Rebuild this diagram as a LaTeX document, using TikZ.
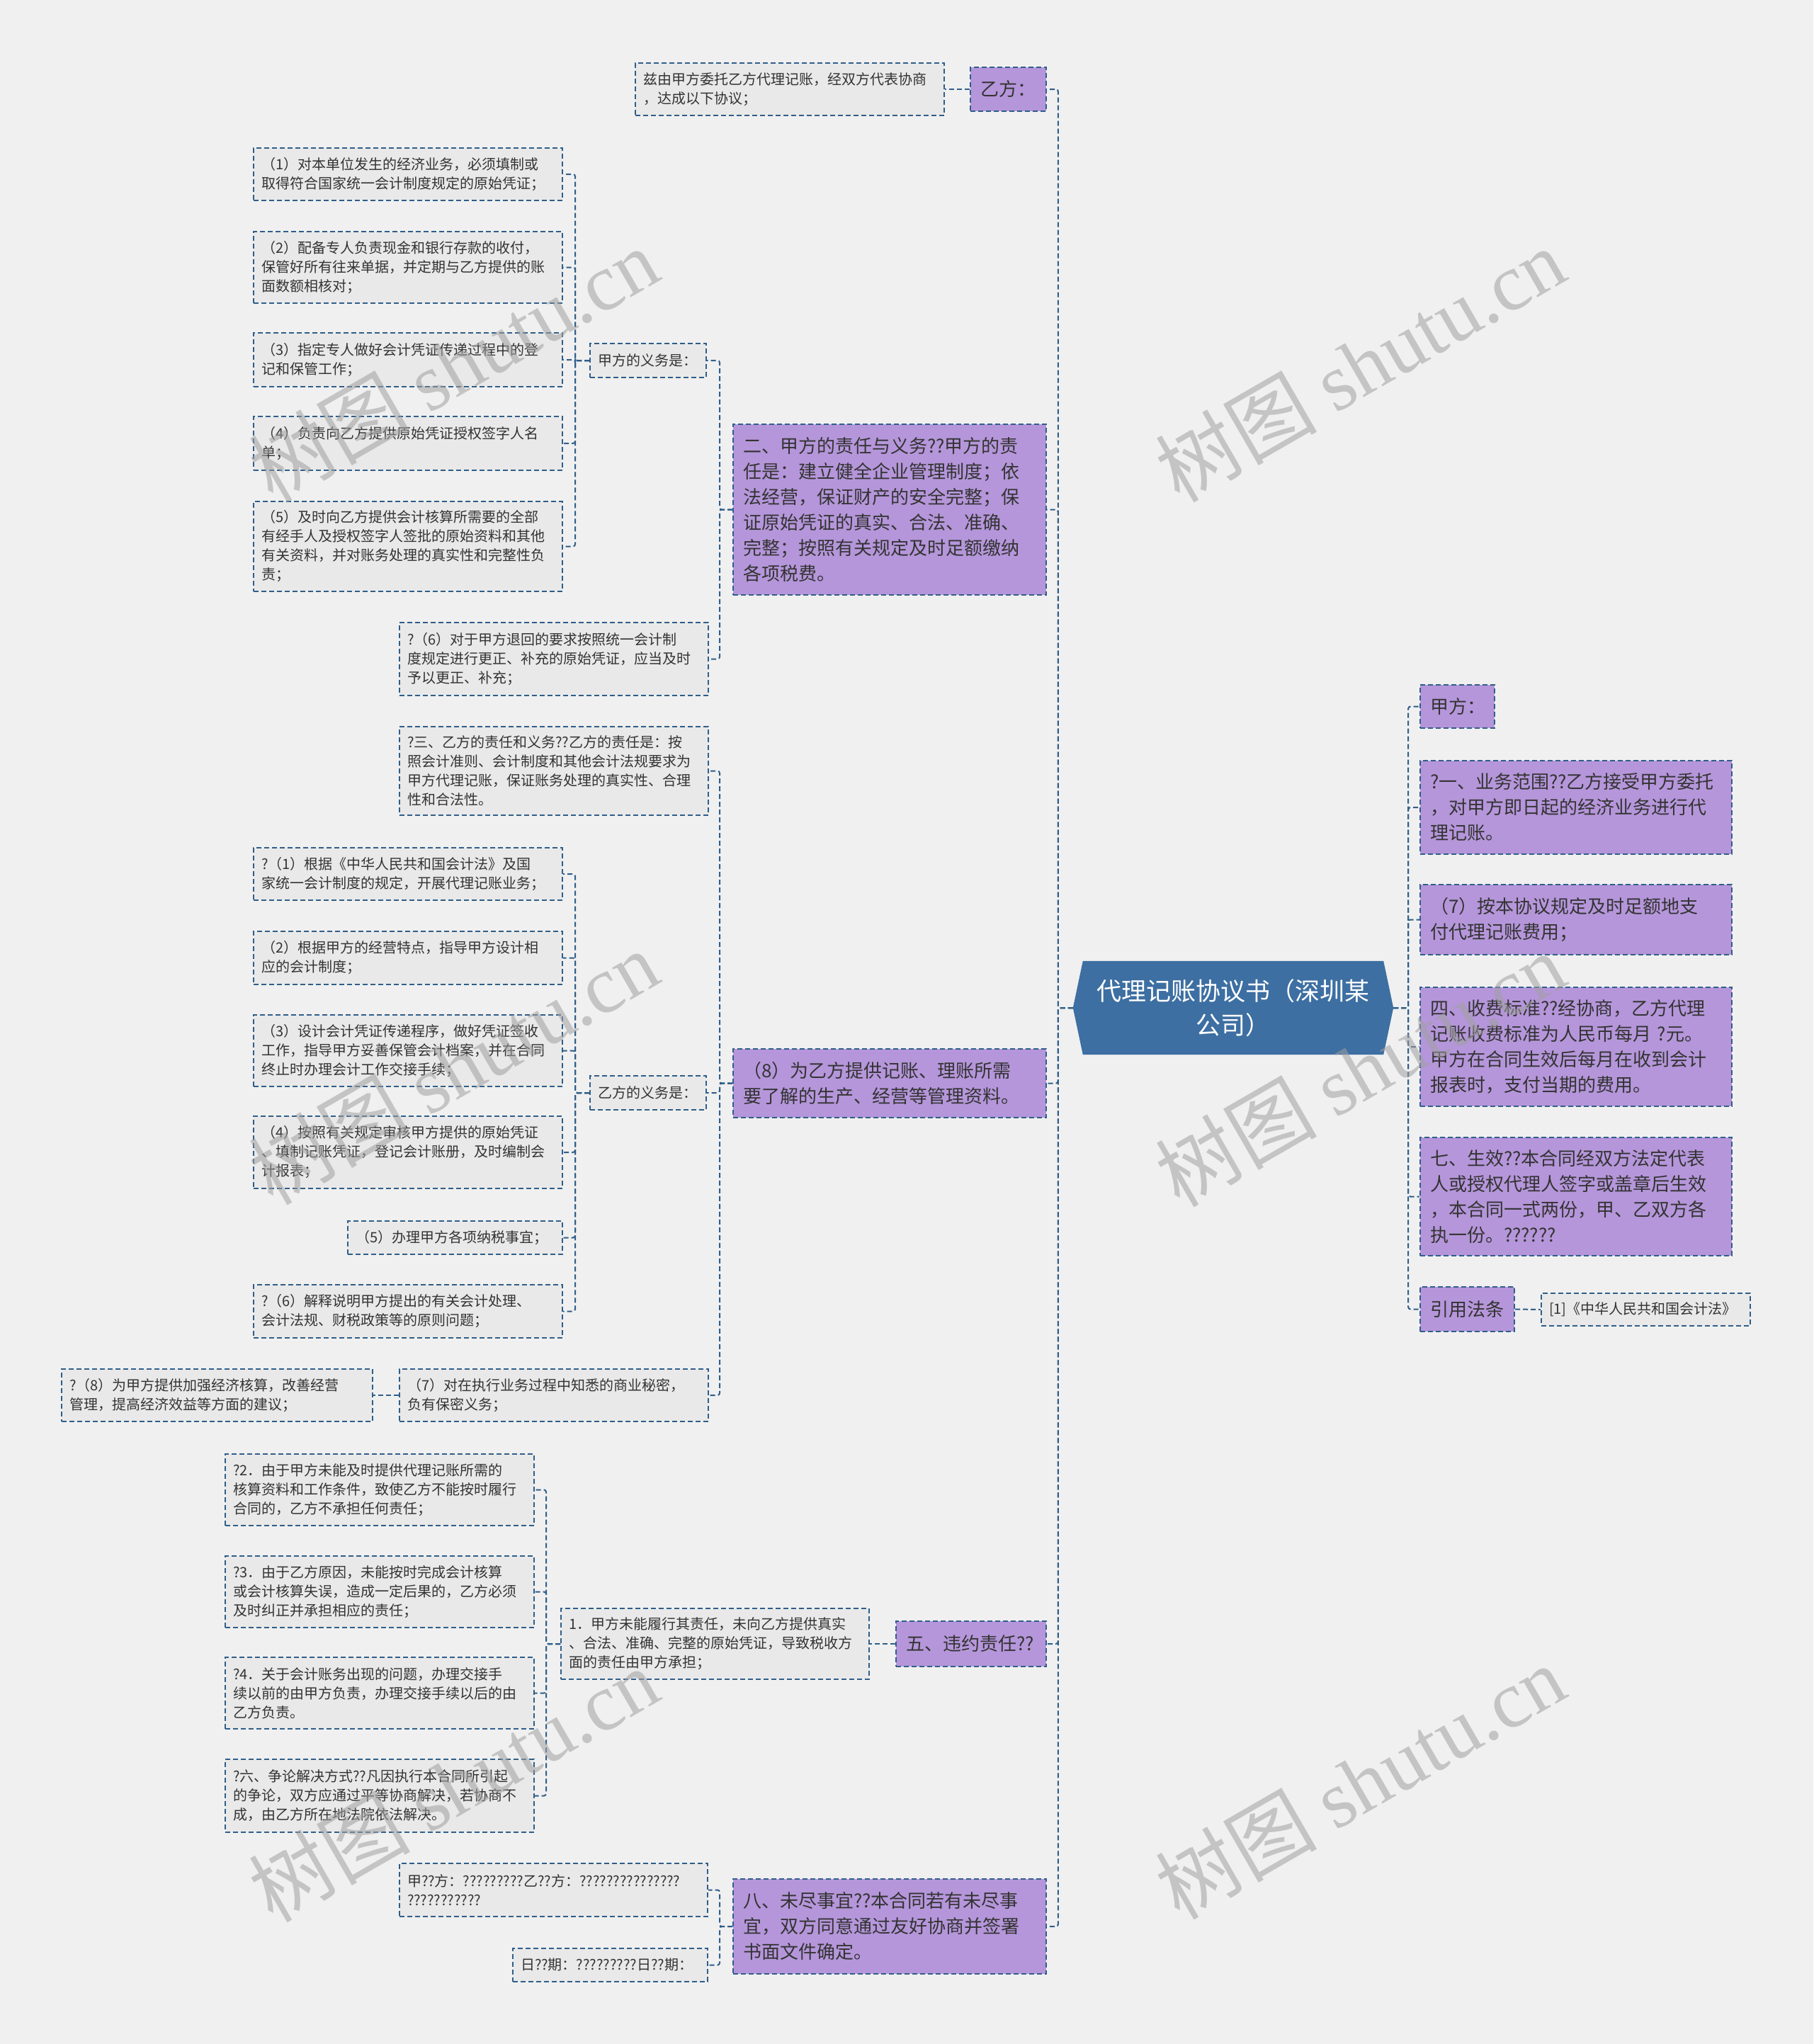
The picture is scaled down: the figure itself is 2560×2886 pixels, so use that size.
\documentclass[tikz,border=0pt]{standalone}
\usepackage{fontspec}
\setmainfont{Noto Sans CJK SC}
\newfontfamily\wmlatin{Liberation Serif}
\definecolor{bgc}{HTML}{F0F0F0}
\definecolor{linec}{HTML}{2F5E8A}
\definecolor{purp}{HTML}{B596DA}
\definecolor{leaff}{HTML}{E9E9E9}
\definecolor{txt}{HTML}{333333}
\definecolor{cent}{HTML}{3D6FA2}
\definecolor{wmc}{HTML}{A0A0A0}
\pgfdeclarelayer{bg}
\pgfsetlayers{bg,main}
\begin{document}
\begin{tikzpicture}[x=1pt,y=-1pt,
  box/.style={draw=linec, line width=2pt, dash pattern=on 7pt off 4pt, anchor=north west, align=left, text=txt, inner ysep=0pt},
  leaf/.style={box, fill=leaff, inner xsep=11pt, font=\fontsize{20}{27}\selectfont},
  purpbox/.style={box, fill=purp, inner xsep=14pt, font=\fontsize{26}{36}\selectfont},
  conn/.style={draw=linec, line width=2pt, dash pattern=on 7pt off 4pt, rounded corners=3pt},
  wm/.style={text=wmc, opacity=0.55, rotate=30, font=\fontsize{114}{114}\selectfont}
]
\useasboundingbox (0,0) rectangle (2560,2886);

% central
\node[font=\fontsize{35}{48}\selectfont, text=white, align=center, minimum width=452, minimum height=132, inner sep=0pt] (c) at (1741,1423) {代理记账协议书（深圳某\\公司）};

% right side
\node[purpbox, text width=77, minimum height=61] (jia) at (2004,966) {甲方：};
\node[purpbox, text width=412, minimum height=132] (r1) at (2004,1073) {?一、业务范围??乙方接受甲方委托\\，对甲方即日起的经济业务进行代\\理记账。};
\node[purpbox, text width=412, minimum height=99] (r2) at (2004,1248) {（7）按本协议规定及时足额地支\\付代理记账费用；};
\node[purpbox, text width=412, minimum height=168] (r3) at (2004,1393) {四、收费标准??经协商，乙方代理\\记账收费标准为人民币每月 ?元。\\甲方在合同生效后每月在收到会计\\报表时，支付当期的费用。};
\node[purpbox, text width=412, minimum height=167] (r4) at (2004,1605) {七、生效??本合同经双方法定代表\\人或授权代理人签字或盖章后生效\\，本合同一式两份，甲、乙双方各\\执一份。??????};
\node[purpbox, text width=105, minimum height=63] (r5) at (2004,1816) {引用法条};
\node[leaf, text width=273, minimum height=46] (r5a) at (2175,1825) {[1]《中华人民共和国会计法》};

% left level 1
\node[purpbox, text width=79, minimum height=62] (yi) at (1369,94) {乙方：};
\node[purpbox, text width=414, minimum height=241] (l2) at (1034,598) {二、甲方的责任与义务??甲方的责\\任是：建立健全企业管理制度；依\\法经营，保证财产的安全完整；保\\证原始凭证的真实、合法、准确、\\完整；按照有关规定及时足额缴纳\\各项税费。};
\node[purpbox, text width=414, minimum height=97] (l8) at (1034,1480) {（8）为乙方提供记账、理账所需\\要了解的生产、经营等管理资料。};
\node[purpbox, text width=184, minimum height=64] (l5) at (1264,2288) {五、违约责任??};
\node[purpbox, text width=414, minimum height=134] (l88) at (1034,2652) {八、未尽事宜??本合同若有未尽事\\宜，双方同意通过友好协商并签署\\书面文件确定。};

% yi child
\node[leaf, text width=414, minimum height=74] (a1) at (896,88) {兹由甲方委托乙方代理记账，经双方代表协商\\，达成以下协议；};

% l2 children
\node[leaf, text width=142, minimum height=48] (jiayi) at (832,484) {甲方的义务是：};
\node[leaf, text width=414, minimum height=103] (q6) at (563,878) {?（6）对于甲方退回的要求按照统一会计制\\度规定进行更正、补充的原始凭证，应当及时\\予以更正、补充；};
\node[leaf, text width=414, minimum height=74] (j1) at (357,208) {（1）对本单位发生的经济业务，必须填制或\\取得符合国家统一会计制度规定的原始凭证；};
\node[leaf, text width=414, minimum height=101] (j2) at (357,326) {（2）配备专人负责现金和银行存款的收付，\\保管好所有往来单据，并定期与乙方提供的账\\面数额相核对；};
\node[leaf, text width=414, minimum height=76] (j3) at (357,469) {（3）指定专人做好会计凭证传递过程中的登\\记和保管工作；};
\node[leaf, text width=414, minimum height=76] (j4) at (357,587) {（4）负责向乙方提供原始凭证授权签字人名\\单；};
\node[leaf, text width=414, minimum height=127] (j5) at (357,707) {（5）及时向乙方提供会计核算所需要的全部\\有经手人及授权签字人签批的原始资料和其他\\有关资料，并对账务处理的真实性和完整性负\\责；};

% l8 children
\node[leaf, text width=414, minimum height=125] (s3) at (563,1025) {?三、乙方的责任和义务??乙方的责任是：按\\照会计准则、会计制度和其他会计法规要求为\\甲方代理记账，保证账务处理的真实性、合理\\性和合法性。};
\node[leaf, text width=142, minimum height=48] (yiyi) at (832,1518) {乙方的义务是：};
\node[leaf, text width=414, minimum height=74] (y7) at (563,1932) {（7）对在执行业务过程中知悉的商业秘密，\\负有保密义务；};
\node[leaf, text width=417, minimum height=74] (y8) at (86,1932) {?（8）为甲方提供加强经济核算，改善经营\\管理，提高经济效益等方面的建议；};
\node[leaf, text width=414, minimum height=74] (k1) at (357,1196) {?（1）根据《中华人民共和国会计法》及国\\家统一会计制度的规定，开展代理记账业务；};
\node[leaf, text width=414, minimum height=75] (k2) at (357,1314) {（2）根据甲方的经营特点，指导甲方设计相\\应的会计制度；};
\node[leaf, text width=414, minimum height=101] (k3) at (357,1432) {（3）设计会计凭证传递程序，做好凭证签收\\工作，指导甲方妥善保管会计档案，并在合同\\终止时办理会计工作交接手续；};
\node[leaf, text width=414, minimum height=102] (k4) at (357,1575) {（4）按照有关规定审核甲方提供的原始凭证\\、填制记账凭证，登记会计账册，及时编制会\\计报表；};
\node[leaf, text width=281, minimum height=47] (k5) at (490,1723) {（5）办理甲方各项纳税事宜；};
\node[leaf, text width=414, minimum height=75] (k6) at (357,1813) {?（6）解释说明甲方提出的有关会计处理、\\会计法规、财税政策等的原则问题；};

% l5 children
\node[leaf, text width=413, minimum height=100] (w1) at (791,2270) {1．甲方未能履行其责任，未向乙方提供真实\\、合法、准确、完整的原始凭证，导致税收方\\面的责任由甲方承担；};
\node[leaf, text width=414, minimum height=101] (w2) at (317,2052) {?2．由于甲方未能及时提供代理记账所需的\\核算资料和工作条件，致使乙方不能按时履行\\合同的，乙方不承担任何责任；};
\node[leaf, text width=414, minimum height=101] (w3) at (317,2196) {?3．由于乙方原因，未能按时完成会计核算\\或会计核算失误，造成一定后果的，乙方必须\\及时纠正并承担相应的责任；};
\node[leaf, text width=414, minimum height=101] (w4) at (317,2339) {?4．关于会计账务出现的问题，办理交接手\\续以前的由甲方负责，办理交接手续以后的由\\乙方负责。};
\node[leaf, text width=414, minimum height=103] (w6) at (317,2483) {?六、争论解决方式??凡因执行本合同所引起\\的争论，双方应通过平等协商解决，若协商不\\成，由乙方所在地法院依法解决。};

% l88 children
\node[leaf, text width=413, minimum height=75] (b1) at (563,2630) {甲??方：?????????乙??方：???????????????\\???????????};
\node[leaf, text width=253, minimum height=47] (b2) at (723,2750) {日??期：?????????日??期：};

\begin{pgfonlayer}{bg}
\fill[bgc] (0,0) rectangle (2560,2886);
\fill[cent] ([xshift=14pt]c.north west) -- ([xshift=-14pt]c.north east) -- (c.east) -- ([xshift=-14pt]c.south east) -- ([xshift=14pt]c.south west) -- (c.west) -- cycle;
\foreach \n in {yi,l2,l8,l5,l88} \draw[conn] (c.west) -- ++(-21,0) |- (\n.east);
\foreach \n in {jia,r1,r2,r3,r4,r5} \draw[conn] (c.east) -- ++(21,0) |- (\n.west);
\draw[conn] (yi.west) -- (a1.east);
\foreach \n in {jiayi,q6} \draw[conn] (l2.west) -- ++(-18,0) |- (\n.east);
\foreach \n in {j1,j2,j3,j4,j5} \draw[conn] (jiayi.west) -- ++(-20,0) |- (\n.east);
\foreach \n in {s3,yiyi,y7} \draw[conn] (l8.west) -- ++(-18,0) |- (\n.east);
\foreach \n in {k1,k2,k3,k4,k5,k6} \draw[conn] (yiyi.west) -- ++(-20,0) |- (\n.east);
\draw[conn] (y7.west) -- (y8.east);
\draw[conn] (l5.west) -- (w1.east);
\foreach \n in {w2,w3,w4,w6} \draw[conn] (w1.west) -- ++(-20,0) |- (\n.east);
\foreach \n in {b1,b2} \draw[conn] (l88.west) -- ++(-18,0) |- (\n.east);
\draw[conn] (r5.east) -- (r5a.west);
\end{pgfonlayer}

% watermarks
\node[wm] (wm1) at (640,515) {树图 {\wmlatin shutu.cn}};
\node[wm] (wm2) at (1920,515) {树图 {\wmlatin shutu.cn}};
\node[wm] (wm3) at (640,1507) {树图 {\wmlatin shutu.cn}};
\node[wm] (wm4) at (1920,1510) {树图 {\wmlatin shutu.cn}};
\node[wm] (wm5) at (640,2520) {树图 {\wmlatin shutu.cn}};
\node[wm] (wm6) at (1920,2516) {树图 {\wmlatin shutu.cn}};
\end{tikzpicture}
\end{document}
